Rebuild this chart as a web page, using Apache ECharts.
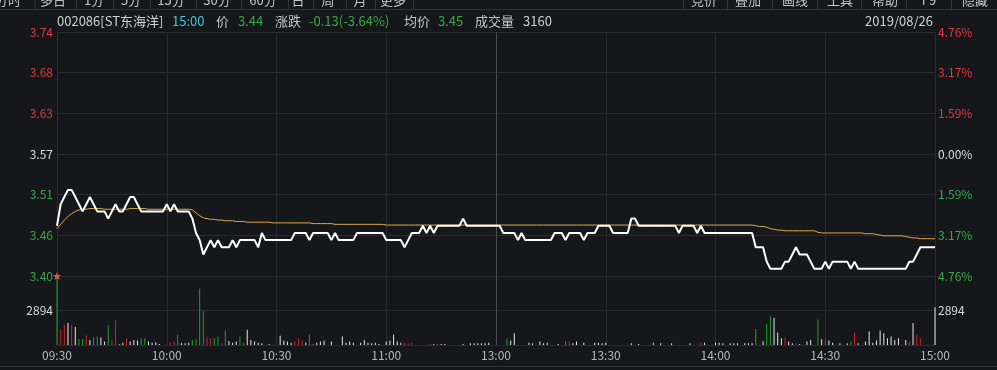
<!DOCTYPE html>
<html>
<head>
<meta charset="utf-8">
<script src="https://cdn.jsdelivr.net/npm/echarts/dist/echarts.min.js"></script>
<style>
html,body{margin:0;padding:0;background:#16171b;}
#c{width:997px;height:370px;}
</style>
</head>
<body>
<div id="c"></div>
<script>
// ---------------- data ----------------
const stockName = '002086[ST东海洋]';
const tradeDate = '2019/08/26';
const preClose = 3.57;
const tickLabels = ['09:30','10:00','10:30','11:00','13:00','13:30','14:00','14:30','15:00'];

const price = [
  3.47,3.50,3.51,3.52,3.52,3.51,3.50,3.49,3.50,3.51,
  3.50,3.49,3.49,3.49,3.48,3.49,3.50,3.49,3.49,3.50,
  3.51,3.51,3.50,3.49,3.49,3.49,3.49,3.49,3.49,3.49,
  3.50,3.49,3.50,3.49,3.49,3.49,3.49,3.48,3.46,3.45,
  3.43,3.44,3.45,3.44,3.45,3.44,3.44,3.44,3.45,3.44,
  3.45,3.45,3.45,3.45,3.45,3.44,3.46,3.45,3.45,3.45,
  3.45,3.45,3.45,3.45,3.45,3.46,3.46,3.46,3.46,3.45,
  3.46,3.46,3.46,3.46,3.46,3.45,3.46,3.45,3.45,3.45,
  3.45,3.45,3.46,3.46,3.46,3.46,3.46,3.46,3.46,3.46,
  3.45,3.45,3.45,3.45,3.45,3.44,3.45,3.46,3.46,3.46,
  3.47,3.46,3.47,3.46,3.47,3.47,3.47,3.47,3.47,3.47,
  3.47,3.48,3.47,3.47,3.47,3.47,3.47,3.47,3.47,3.47,
  3.47,3.47,3.46,3.46,3.46,3.46,3.45,3.46,3.45,3.45,
  3.45,3.45,3.45,3.45,3.45,3.45,3.46,3.46,3.46,3.45,
  3.46,3.46,3.46,3.46,3.45,3.46,3.46,3.46,3.47,3.47,
  3.47,3.47,3.46,3.46,3.46,3.46,3.46,3.48,3.48,3.47,
  3.47,3.47,3.47,3.47,3.47,3.47,3.47,3.47,3.47,3.47,
  3.46,3.47,3.47,3.47,3.47,3.46,3.47,3.46,3.46,3.46,
  3.46,3.46,3.46,3.46,3.46,3.46,3.46,3.46,3.46,3.46,
  3.46,3.44,3.44,3.44,3.42,3.41,3.41,3.41,3.41,3.42,
  3.42,3.43,3.44,3.43,3.43,3.43,3.42,3.41,3.41,3.41,
  3.42,3.41,3.42,3.42,3.42,3.42,3.42,3.41,3.42,3.41,
  3.41,3.41,3.41,3.41,3.41,3.41,3.41,3.41,3.41,3.41,
  3.41,3.41,3.41,3.42,3.42,3.43,3.44,3.44,3.44,3.44,
  3.44
];

const avgPrice = [
  3.466,3.472,3.478,3.483,3.487,3.490,3.492,3.493,3.493,3.494,
  3.494,3.494,3.494,3.493,3.493,3.493,3.493,3.493,3.493,3.493,
  3.494,3.494,3.494,3.494,3.494,3.493,3.493,3.493,3.493,3.493,
  3.493,3.493,3.493,3.493,3.493,3.493,3.493,3.492,3.488,3.484,
  3.481,3.480,3.479,3.479,3.478,3.478,3.477,3.477,3.477,3.476,
  3.476,3.476,3.475,3.475,3.475,3.475,3.475,3.475,3.475,3.474,
  3.474,3.474,3.474,3.474,3.474,3.474,3.474,3.474,3.474,3.474,
  3.473,3.473,3.473,3.473,3.473,3.473,3.472,3.472,3.472,3.472,
  3.472,3.472,3.472,3.472,3.472,3.472,3.472,3.472,3.472,3.472,
  3.471,3.471,3.471,3.471,3.471,3.471,3.471,3.471,3.471,3.471,
  3.471,3.471,3.471,3.471,3.471,3.471,3.471,3.471,3.471,3.471,
  3.471,3.471,3.471,3.471,3.471,3.471,3.471,3.471,3.471,3.471,
  3.471,3.471,3.471,3.471,3.471,3.471,3.471,3.471,3.471,3.471,
  3.471,3.471,3.471,3.471,3.471,3.471,3.471,3.471,3.471,3.471,
  3.471,3.471,3.471,3.471,3.471,3.471,3.471,3.471,3.471,3.471,
  3.471,3.471,3.471,3.471,3.471,3.471,3.471,3.471,3.471,3.471,
  3.471,3.471,3.471,3.471,3.471,3.471,3.471,3.471,3.471,3.471,
  3.471,3.471,3.471,3.471,3.471,3.471,3.471,3.471,3.471,3.471,
  3.471,3.471,3.471,3.471,3.471,3.471,3.471,3.471,3.471,3.471,
  3.471,3.470,3.469,3.469,3.468,3.466,3.465,3.464,3.464,3.463,
  3.463,3.463,3.463,3.463,3.463,3.463,3.463,3.463,3.461,3.460,
  3.460,3.460,3.460,3.460,3.460,3.460,3.460,3.460,3.460,3.460,
  3.460,3.459,3.459,3.459,3.458,3.457,3.456,3.456,3.456,3.456,
  3.456,3.456,3.455,3.454,3.453,3.453,3.452,3.452,3.452,3.452,
  3.452
];

const volume = [
  5788,1278,1704,1846,1704,1505,511,511,795,426,
  653,710,625,284,1647,426,2073,60,199,568,
  284,426,369,568,568,284,199,228,85,0,
  0,199,284,852,199,142,199,426,483,4743,
  2840,710,568,568,710,142,1221,341,199,284,
  710,199,1278,426,284,199,142,0,85,0,
  0,767,369,284,199,284,568,369,199,909,
  40,199,284,369,0,284,0,0,710,199,
  284,199,0,199,426,199,142,199,85,0,
  284,369,852,284,199,199,142,199,0,0,
  0,0,85,85,85,85,85,0,0,0,
  0,85,0,142,142,142,142,142,199,0,
  0,0,0,568,369,994,0,0,0,199,
  142,0,284,142,199,0,0,85,0,341,
  284,142,284,0,199,0,0,199,199,142,
  199,0,0,0,0,0,0,142,0,85,
  0,0,0,199,0,142,0,0,142,0,
  0,0,0,142,0,0,142,199,0,0,
  199,199,142,0,142,142,142,0,142,142,
  142,1335,0,284,1760,2414,2272,1050,568,625,
  284,142,142,85,0,284,426,0,2130,483,
  568,369,199,0,142,0,142,284,1050,142,
  0,284,1136,199,369,1221,994,568,710,426,
  568,0,426,284,1846,852,568,0,0,0,
  3160
];

// 1 = up (red), -1 = down (green), 0 = flat (white)
const volDir = [
  -1,1,1,0,1,0,-1,-1,1,0,
  -1,-1,0,0,-1,1,1,0,0,1,
  0,0,0,-1,-1,0,0,0,0,0,
  0,1,1,-1,0,0,0,-1,-1,-1,
  -1,1,1,-1,-1,1,-1,0,0,0,
  -1,-1,0,0,0,0,0,0,0,0,
  0,0,0,0,0,1,1,1,0,-1,
  0,0,0,0,0,0,0,0,0,0,
  0,0,0,0,0,0,0,0,0,0,
  0,0,0,0,0,1,1,1,0,0,
  0,0,1,0,1,0,0,0,0,0,
  0,0,0,0,0,0,0,0,0,0,
  0,0,0,-1,0,0,0,0,0,0,
  0,0,0,0,0,0,0,0,0,-1,
  1,0,0,0,0,0,0,0,0,0,
  0,0,0,0,0,0,0,0,0,0,
  0,0,0,0,0,0,0,0,0,0,
  0,0,0,0,0,0,1,0,0,0,
  0,0,0,0,0,0,0,0,0,0,
  0,-1,0,0,-1,-1,0,0,0,1,
  0,0,1,0,0,0,0,0,-1,0,
  1,0,0,0,0,0,0,-1,1,0,
  0,0,0,0,0,0,0,0,0,0,
  0,0,0,1,0,1,1,0,0,0,
  0
];

// ---------------- derived ----------------
function hm(m){ const h = Math.floor(m/60), mm = m%60; return (h<10?'0':'')+h+':'+(mm<10?'0':'')+mm; }
const categories = [];
for (let m = 0; m <= 120; m++) categories.push(hm(9*60+30+m));
for (let m = 1; m <= 120; m++) categories.push(hm(13*60+m));

const priceMin = 3.40, priceMax = 3.74;
const priceStep = (priceMax - priceMin) / 6;
const volMax = Math.max.apply(null, volume);

const C = {
  bg:'#16171b', grid:'#2b2c31', grid13:'#4a4b50', red:'#e03a3e', green:'#38a849',
  white:'#dadada', barRed:'#c3262d', barGreen:'#1f9d34', barWhite:'#e8e8e8',
  avg:'#dcaa4a', text:'#c4c4c4', cyan:'#46c2d6', sep:'#34353a'
};
const FONT = '"Noto Sans CJK SC", "Microsoft YaHei", sans-serif';

function levelColor(v){
  const d = Number(v) - preClose;
  if (Math.abs(d) < 0.005) return C.white;
  return d > 0 ? C.red : C.green;
}
const splitColors = tickLabels.map(t => t === '13:00' ? C.grid13 : C.grid);

const volData = volume.map((v,i) => ({
  value: v,
  itemStyle: { color: volDir[i] > 0 ? C.barRed : (volDir[i] < 0 ? C.barGreen : C.barWhite) }
}));

const last = price[price.length-1];
const chg = last - preClose;
const chgPct = chg / preClose * 100;
const lastAvg = avgPrice[avgPrice.length-1];
const lastVol = volume[volume.length-1];

// ---------------- graphic ----------------
const graphic = [];
function gtext(txt, x, y, color, align, size){
  graphic.push({type:'text', x:x, y:y, silent:true, z:100,
    style:{text:txt, fill:color, font:(size||13)+'px '+FONT,
      textAlign:align||'left', align:align||'left', textVerticalAlign:'middle', verticalAlign:'middle'}});
}
function gline(x1,y1,x2,y2,color){
  graphic.push({type:'line', silent:true, z:90, shape:{x1:x1,y1:y1,x2:x2,y2:y2}, style:{stroke:color, lineWidth:1}});
}
// toolbar (cut off at top)
const toolLeft = [['分时',8],['多日',53],['1分',94],['5分',131],['15分',171],['30分',217],['60分',263],['日',298],['周',328],['月',360],['更多',393]];
const toolRight = [['竞价',704],['叠加',748],['画线',795],['工具',840],['帮助',885],['F9',929],['隐藏',975]];
toolLeft.concat(toolRight).forEach(t => gtext(t[0], t[1], 0.5, C.text, 'center', 13));
[35,76.5,113.5,150.5,196.5,241.5,288.5,313.5,346.5,375.5,413.5,683.5,727.5,772.5,817.5,861.5,906.5,951.5]
  .forEach(x => gline(x,0,x,9,C.sep));
gline(0,9.5,997,9.5,'#303136');
gline(0,366.5,997,366.5,'#303136');
// header
gtext(stockName, 57, 21, '#d0d0d0');
gtext('15:00', 172, 21, C.cyan);
gtext('价', 216, 21, C.text);
gtext(last.toFixed(2), 238, 21, C.green);
gtext('涨跌', 275, 21, C.text);
gtext(chg.toFixed(2)+'('+chgPct.toFixed(2)+'%)', 309, 21, C.green);
gtext('均价', 404, 21, C.text);
gtext(lastAvg.toFixed(2), 438, 21, C.green);
gtext('成交量', 475, 21, C.text);
gtext(String(lastVol), 523, 21, '#d0d0d0');
gtext(tradeDate, 933, 21, '#d0d0d0', 'right');
// open marker star
gtext('★', 57, 276, '#e5573a', 'center', 9);

// ---------------- chart ----------------
const chart = echarts.init(document.getElementById('c'), null, {renderer:'canvas'});
const xCommon = {
  type:'category', data:categories, boundaryGap:false,
  axisLine:{show:false}, axisTick:{show:false},
  splitLine:{show:true, interval:(i)=> i%30===0, lineStyle:{color:splitColors, width:1}}
};
chart.setOption({
  backgroundColor: C.bg,
  animation: false,
  grid: [
    {left:57, top:32, width:878, height:244},
    {left:57, top:276, width:878, height:69}
  ],
  xAxis: [
    Object.assign({}, xCommon, {gridIndex:0, axisLabel:{show:false}}),
    Object.assign({}, xCommon, {gridIndex:1, axisLabel:{show:true, interval:(i)=> i%30===0,
      formatter:(v,i)=> tickLabels[Math.round(i/30)], color:'#b8b8b8', fontSize:12, fontFamily:FONT, margin:4}})
  ],
  yAxis: [
    {type:'value', gridIndex:0, min:priceMin, max:priceMax, interval:priceStep, position:'left',
      axisLine:{show:false}, axisTick:{show:false},
      splitLine:{show:true, lineStyle:{color:C.grid}},
      axisLabel:{formatter:(v)=> Number(v).toFixed(2), color:levelColor, fontSize:12, fontFamily:FONT, margin:4}},
    {type:'value', gridIndex:0, min:priceMin, max:priceMax, interval:priceStep, position:'right',
      axisLine:{show:false}, axisTick:{show:false}, splitLine:{show:false},
      axisLabel:{formatter:(v)=> Math.abs((Number(v)-preClose)/preClose*100).toFixed(2)+'%',
        color:levelColor, fontSize:12, fontFamily:FONT, margin:3}},
    {type:'value', gridIndex:1, min:0, max:volMax, interval:volMax/2, position:'left',
      axisLine:{show:false}, axisTick:{show:false},
      splitLine:{show:true, lineStyle:{color:C.grid}},
      axisLabel:{formatter:(v)=> (Math.abs(v - volMax/2) < 1 ? String(Math.round(v)) : ''), color:C.white, fontSize:12, fontFamily:FONT, margin:4}},
    {type:'value', gridIndex:1, min:0, max:volMax, interval:volMax/2, position:'right',
      axisLine:{show:false}, axisTick:{show:false}, splitLine:{show:false},
      axisLabel:{formatter:(v)=> (Math.abs(v - volMax/2) < 1 ? String(Math.round(v)) : ''), color:C.white, fontSize:12, fontFamily:FONT, margin:3}}
  ],
  series: [
    {type:'bar', xAxisIndex:1, yAxisIndex:2, data:volData, barWidth:1, silent:true},
    {type:'line', xAxisIndex:0, yAxisIndex:0, data:avgPrice, showSymbol:false, symbol:'none',
      lineStyle:{color:C.avg, width:1}, silent:true, z:3},
    {type:'line', xAxisIndex:0, yAxisIndex:0, data:price, showSymbol:false, symbol:'none',
      lineStyle:{color:'#ffffff', width:2}, silent:true, z:4}
  ],
  graphic: graphic
});
</script>
</body>
</html>
